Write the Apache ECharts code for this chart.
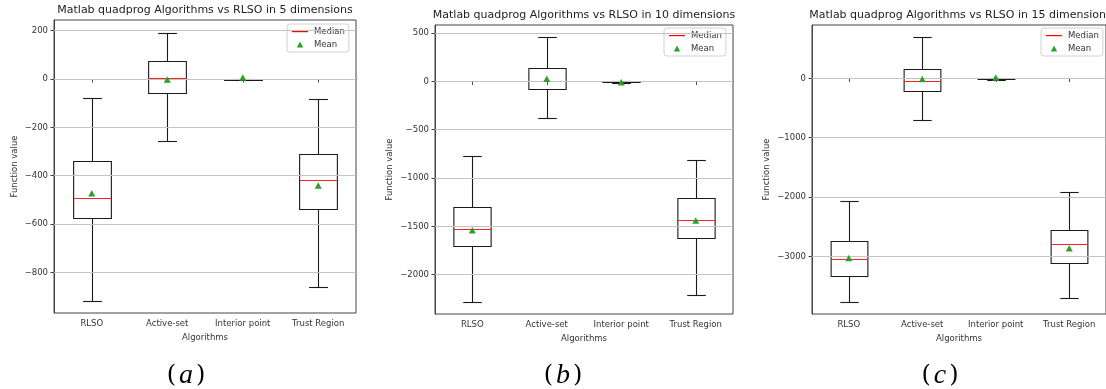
<!DOCTYPE html>
<html><head><meta charset="utf-8">
<script src="https://cdn.jsdelivr.net/npm/echarts@6/dist/echarts.min.js"></script>
<style>html,body{margin:0;padding:0;background:#fff}#c{width:1106px;height:389px}</style>
</head><body><div id="c"></div>
<script>
const categories = ['RLSO', 'Active-set', 'Interior point', 'Trust Region'];
const titles = ['Matlab quadprog Algorithms vs RLSO in 5 dimensions', 'Matlab quadprog Algorithms vs RLSO in 10 dimensions', 'Matlab quadprog Algorithms vs RLSO in 15 dimensions'];
const captions = ['a', 'b', 'c'];
// [lower whisker, Q1, median, Q3, upper whisker]
const boxA = [[-917, -577, -491, -338, -77], [-257, -59, 3, 74, 192], [-6, -4, 0, 1, 2], [-859, -539, -417, -312, -84]];
const meanA = [-473, -2, 6, -441];
const boxB = [[-2277, -1705, -1526, -1298, -776], [-380, -83, 0, 141, 455], [-14, -10, 0, 0, 2], [-2209, -1615, -1429, -1205, -815]];
const meanB = [-1539, 27, -8, -1439];
const boxC = [[-3760, -3322, -3035, -2732, -2064], [-698, -209, -40, 152, 691], [-20, -15, 0, 2, 5], [-3693, -3114, -2799, -2558, -1917]];
const meanC = [-3025, -12, 15, -2862];
const ticksA = [-800, -600, -400, -200, 0, 200];
const ticksB = [-2000, -1500, -1000, -500, 0, 500];
const ticksC = [-3000, -2000, -1000, 0];
const yRangeA = [-968, 244];
const yRangeB = [-2406, 583];
const yRangeC = [-3970, 899];

const panels = [
  {box: boxA, mean: meanA, ticks: ticksA, range: yRangeA, grid: {left: 54, top: 20, width: 302, height: 293}, titleY: 10, legendLeft: 287, legendTop: 24, capX: 186, nameGap: 35},
  {box: boxB, mean: meanB, ticks: ticksB, range: yRangeB, grid: {left: 435, top: 25, width: 298, height: 289}, titleY: 15, legendLeft: 664, legendTop: 28, capX: 563, nameGap: 41},
  {box: boxC, mean: meanC, ticks: ticksC, range: yRangeC, grid: {left: 812, top: 25, width: 297, height: 289}, titleY: 15, legendLeft: 1041, legendTop: 28, capX: 940, nameGap: 41}
];
const FONT = 'DejaVu Sans';
const TXT = '#333';
const fmt = v => String(v).replace('-', '\u2212');
const MEDIAN_ICON = 'path://M0,0 M18,7 M1,3 L17,3 L17,4.2 L1,4.2 Z';
const MEAN_ICON = 'path://M0,0 M18,7 M9,0.6 L12.2,6.4 L5.8,6.4 Z';

function renderBox(params, api) {
  const x = api.value(0);
  const lo = api.coord([x, api.value(1)]);
  const q1 = api.coord([x, api.value(2)]);
  const md = api.coord([x, api.value(3)]);
  const q3 = api.coord([x, api.value(4)]);
  const hi = api.coord([x, api.value(5)]);
  const cx = Math.round(lo[0]) + 0.5;
  const bw = api.size([1, 0])[0] * 0.5;
  const r = v => Math.round(v) + 0.5;
  const blk = {stroke: '#1a1a1a', lineWidth: 1.1, fill: null};
  return {
    type: 'group',
    children: [
      {type: 'line', shape: {x1: cx, y1: r(q3[1]), x2: cx, y2: r(hi[1])}, style: blk},
      {type: 'line', shape: {x1: cx, y1: r(q1[1]), x2: cx, y2: r(lo[1])}, style: blk},
      {type: 'line', shape: {x1: cx - bw / 4, y1: r(hi[1]), x2: cx + bw / 4, y2: r(hi[1])}, style: blk},
      {type: 'line', shape: {x1: cx - bw / 4, y1: r(lo[1]), x2: cx + bw / 4, y2: r(lo[1])}, style: blk},
      {type: 'rect', shape: {x: cx - bw / 2, y: r(q3[1]), width: bw, height: r(q1[1]) - r(q3[1])}, style: blk},
      {type: 'line', shape: {x1: cx - bw / 2, y1: r(md[1]), x2: cx + bw / 2, y2: r(md[1])}, style: {stroke: '#ff2020', lineWidth: 1}}
    ]
  };
}

const option = {
  animation: false,
  textStyle: {fontFamily: FONT},
  grid: [], xAxis: [], yAxis: [], series: [], legend: [], graphic: []
};

panels.forEach((p, k) => {
  option.grid.push(Object.assign({show: true, borderColor: '#444', borderWidth: 1, backgroundColor: '#fff'}, p.grid));
  option.xAxis.push({
    type: 'category', gridIndex: k, data: categories, boundaryGap: true,
    name: 'Algorithms', nameLocation: 'middle', nameGap: 20,
    nameTextStyle: {fontSize: 8.5, color: TXT, fontFamily: FONT},
    axisLine: {show: true, lineStyle: {color: '#444'}},
    axisTick: {show: true, alignWithLabel: true, length: 3.5, lineStyle: {color: '#444'}},
    axisLabel: {fontSize: 8.5, color: TXT, margin: 6, interval: 0, fontFamily: FONT},
    splitLine: {show: false}
  });
  option.yAxis.push({
    type: 'value', gridIndex: k, min: p.range[0], max: p.range[1],
    name: 'Function value', nameLocation: 'middle', nameRotate: 90, nameGap: p.nameGap,
    nameTextStyle: {fontSize: 8.5, color: TXT, fontFamily: FONT},
    axisLine: {show: true, lineStyle: {color: '#444'}},
    axisTick: {show: true, length: 3.5, customValues: p.ticks, lineStyle: {color: '#444'}},
    axisLabel: {fontSize: 8.5, color: TXT, margin: 6, customValues: p.ticks, formatter: fmt, fontFamily: FONT},
    splitLine: {show: false}
  });
  option.series.push({
    type: 'custom', xAxisIndex: k, yAxisIndex: k, name: 'box' + k,
    renderItem: renderBox,
    encode: {x: 0, y: [1, 2, 3, 4, 5]},
    data: p.box.map((b, i) => [i].concat(b)),
    z: 3,
    markLine: {
      silent: true, symbol: ['none', 'none'], label: {show: false},
      lineStyle: {color: '#c4c4c4', width: 1, type: 'solid'},
      emphasis: {disabled: true},
      data: p.ticks.map(v => ({yAxis: v}))
    }
  });
  option.series.push({
    type: 'line', name: 'Median', xAxisIndex: k, yAxisIndex: k, data: [[0, 0]],
    symbol: 'none', color: '#ff0000', itemStyle: {color: '#ff0000'}, lineStyle: {color: '#ff0000', width: 1, opacity: 0}
  });
  option.series.push({
    type: 'scatter', name: 'Mean', xAxisIndex: k, yAxisIndex: k,
    data: p.mean.map((v, i) => [i, v]),
    symbol: 'triangle', symbolSize: [7, 6.5], itemStyle: {color: '#2ca02c', opacity: 1}, z: 5
  });
  option.legend.push({
    data: [{name: 'Median', icon: MEDIAN_ICON, textStyle: {color: TXT}}, {name: 'Mean', icon: MEAN_ICON, textStyle: {color: TXT}}],
    orient: 'vertical', left: p.legendLeft, top: p.legendTop,
    itemWidth: 18, itemHeight: 7, itemGap: 4,
    padding: [3, 4, 3, 4],
    backgroundColor: '#fff', borderColor: '#d0d0d0', borderWidth: 1, borderRadius: 3,
    textStyle: {fontSize: 8.5, color: TXT, fontFamily: FONT},
    inactiveColor: TXT,
    selectedMode: false
  });
  option.graphic.push({
    type: 'text', x: p.grid.left + p.grid.width / 2, y: p.titleY,
    style: {text: titles[k], fontSize: 11, fontFamily: FONT, fill: '#222', align: 'center', verticalAlign: 'middle'}
  });
  option.graphic.push({
    type: 'text', x: p.capX, y: 376,
    style: {
      text: '{p|(}{i|' + captions[k] + '}{p|)}', align: 'center', verticalAlign: 'middle',
      rich: {
        p: {fontFamily: 'DejaVu Serif', fontSize: 24, fill: '#000'},
        i: {fontFamily: 'Liberation Serif', fontStyle: 'italic', fontSize: 28, fill: '#000', padding: [0, 3, 0, 3]}
      }
    }
  });
});

const chart = echarts.init(document.getElementById('c'), null, {renderer: 'canvas'});
chart.setOption(option);
</script>
</body></html>
